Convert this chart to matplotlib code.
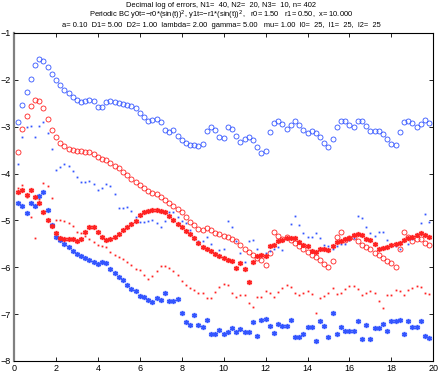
import numpy as np
import matplotlib
matplotlib.use("Agg")
import matplotlib.pyplot as plt

plt.rcParams['font.family'] = ['Liberation Sans', 'DejaVu Sans']

# abscissa: 0.2 .. 19.8
t = np.arange(1, 100) * 0.2

blue_circ = [
    -2.91, -2.54, -2.25, -1.99, -1.69, -1.55, -1.59, -1.73, -1.87, -2.00,
    -2.11, -2.22, -2.29, -2.36, -2.43, -2.48, -2.45, -2.42, -2.45, -2.57,
    -2.59, -2.47, -2.45, -2.47, -2.49, -2.51, -2.53, -2.56, -2.61, -2.70,
    -2.80, -2.88, -2.86, -2.84, -2.91, -3.06, -3.11, -3.08, -3.20, -3.28,
    -3.35, -3.40, -3.38, -3.42, -3.36, -3.10, -3.01, -3.07, -3.23, -3.25,
    -3.00, -3.05, -3.19, -3.32, -3.26, -3.21, -3.29, -3.44, -3.57, -3.51,
    -3.12, -2.92, -2.88, -2.95, -3.05, -2.96, -2.87, -2.96, -3.08, -3.14,
    -3.10, -3.14, -3.23, -3.34, -3.44, -3.26, -3.00, -2.87, -2.88, -2.97,
    -3.01, -2.88, -2.88, -2.98, -3.09, -3.09, -3.09, -3.15, -3.26, -3.36,
    -3.38, -3.11, -2.91, -2.87, -2.93, -3.01, -2.94, -2.85, -2.93]

red_circ = [
    -3.55, -3.05, -2.77, -2.55, -2.43, -2.45, -2.61, -2.83, -3.06, -3.23,
    -3.34, -3.41, -3.47, -3.50, -3.51, -3.52, -3.54, -3.55, -3.59, -3.64,
    -3.68, -3.72, -3.78, -3.84, -3.89, -3.96, -4.03, -4.11, -4.17, -4.24,
    -4.31, -4.37, -4.41, -4.44, -4.49, -4.56, -4.63, -4.69, -4.76, -4.83,
    -4.92, -5.03, -5.10, -5.18, -5.20, -5.17, -5.20, -5.27, -5.30, -5.33,
    -5.36, -5.40, -5.45, -5.52, -5.60, -5.67, -5.74, -5.81, -5.85, -5.95,
    -5.70, -5.24, -5.33, -5.40, -5.36, -5.41, -5.48, -5.55, -5.62, -5.68,
    -5.74, -5.78, -5.84, -5.92, -5.99, -5.87, -5.35, -5.24, -5.42, -5.38,
    -5.36, -5.45, -5.52, -5.57, -5.62, -5.69, -5.74, -5.81, -5.86, -5.91,
    -5.99, -5.60, -5.24, -5.35, -5.45, -5.40, -5.40, -5.48, -5.53]

red_star = [
    -4.39, -4.35, -4.46, -4.35, -4.51, -4.62, -4.82, -4.99, -5.12, -5.26,
    -5.38, -5.39, -5.39, -5.39, -5.43, -5.39, -5.24, -5.15, -5.15, -5.25,
    -5.35, -5.42, -5.40, -5.35, -5.28, -5.20, -5.13, -5.08, -5.01, -4.88,
    -4.83, -4.80, -4.78, -4.78, -4.80, -4.83, -4.90, -4.99, -5.08, -5.15,
    -5.23, -5.30, -5.38, -5.48, -5.56, -5.61, -5.65, -5.72, -5.76, -5.80,
    -5.84, -5.87, -6.02, -5.91, -6.03, -6.31, -5.88, -5.77, -5.74, -5.75,
    -5.55, -5.52, -5.45, -5.42, -5.38, -5.37, -5.38, -5.47, -5.52, -5.54,
    -5.65, -5.67, -5.60, -5.60, -5.63, -5.55, -5.47, -5.44, -5.40, -5.38,
    -5.31, -5.30, -5.31, -5.40, -5.42, -5.50, -5.60, -5.58, -5.56, -5.52,
    -5.51, -5.48, -5.42, -5.38, -5.35, -5.31, -5.27, -5.31, -5.35]

blue_star = [
    -4.63, -4.69, -4.85, -4.62, -4.69, -4.48, -4.40, -4.78, -5.10, -5.35,
    -5.42, -5.51, -5.57, -5.66, -5.72, -5.76, -5.81, -5.84, -5.88, -5.93,
    -5.88, -5.91, -6.04, -6.12, -6.21, -6.27, -6.38, -6.47, -6.50, -6.61,
    -6.63, -6.70, -6.75, -6.65, -6.70, -6.54, -6.72, -6.71, -6.68, -6.97,
    -7.16, -7.23, -7.02, -7.23, -7.27, -7.12, -7.42, -7.43, -7.34, -7.42,
    -7.39, -7.30, -7.39, -7.32, -7.39, -7.39, -7.17, -7.47, -7.12, -7.10,
    -7.25, -7.41, -7.21, -7.25, -7.25, -7.13, -7.49, -7.49, -7.42, -7.27,
    -7.28, -7.57, -7.14, -7.25, -7.48, -6.97, -7.42, -7.27, -7.37, -7.37,
    -7.37, -7.14, -7.54, -7.23, -7.53, -7.30, -7.30, -7.21, -7.37, -7.14,
    -7.14, -7.12, -7.42, -7.15, -7.27, -7.28, -7.15, -7.46, -7.52]

blue_dot = [
    -3.80, -3.21, -3.01, -2.98, -3.23, -2.98, -2.89, -3.13, -3.48, -3.93,
    -3.87, -3.80, -3.83, -3.95, -4.07, -4.19, -4.19, -4.16, -4.23, -4.35,
    -4.30, -4.23, -4.26, -4.44, -4.74, -4.74, -4.71, -4.80, -4.93, -5.03,
    -5.03, -5.01, -4.99, -5.05, -5.15, -5.01, -4.83, -4.83, -4.92, -5.01,
    -5.05, -5.20, -5.36, -5.45, -5.45, -5.35, -5.50, -5.70, -5.63, -5.61,
    -5.01, -5.13, -5.45, -5.70, -5.88, -5.43, -5.42, -5.62, -5.75, -5.70,
    -5.65, -5.60, -5.56, -5.63, -5.40, -5.08, -4.90, -5.10, -5.26, -5.36,
    -5.35, -5.26, -5.37, -5.52, -5.55, -5.62, -5.55, -5.50, -5.50, -5.42,
    -5.38, -4.91, -4.95, -5.13, -5.27, -5.33, -5.25, -5.25, -5.41, -5.52,
    -5.55, -5.60, -5.45, -5.50, -5.40, -5.30, -5.05, -4.87, -5.03]

red_dot = [
    -4.30, -4.24, -4.50, -4.93, -5.38, -4.55, -4.21, -4.26, -4.53, -4.99,
    -5.00, -5.02, -5.06, -5.11, -5.24, -5.26, -5.33, -5.40, -5.47, -5.52,
    -5.55, -5.56, -5.68, -5.74, -5.78, -5.83, -5.88, -5.96, -6.03, -6.06,
    -6.16, -6.25, -6.19, -6.09, -5.97, -5.97, -6.02, -6.07, -6.16, -6.29,
    -6.38, -6.45, -6.48, -6.55, -6.54, -6.66, -6.65, -6.52, -6.43, -6.36,
    -6.38, -6.54, -6.63, -6.59, -6.59, -6.77, -6.84, -6.63, -6.63, -6.50,
    -6.55, -6.63, -6.52, -6.45, -6.38, -6.43, -6.55, -6.60, -6.54, -6.51,
    -6.58, -6.98, -6.66, -6.61, -6.54, -6.45, -6.58, -6.54, -6.47, -6.41,
    -6.40, -6.47, -6.59, -6.55, -6.50, -6.54, -6.71, -6.87, -6.60, -6.60,
    -6.48, -6.50, -6.60, -6.48, -6.45, -6.39, -6.43, -6.54, -6.58]

BLUE = '#3355ff'
RED = '#ff2222'

fig = plt.figure(figsize=(4.43, 3.74), dpi=100)
ax = fig.add_axes([0.0316, 0.0348, 0.9465, 0.877])

ax.plot(t, blue_circ, 'o', mfc='none', mec=BLUE, ms=3.6, mew=0.6)
ax.plot(t, red_circ, 'o', mfc='none', mec=RED, ms=3.6, mew=0.6)
ax.plot(t, blue_dot, 's', color=BLUE, ms=1.3, mew=0)
ax.plot(t, red_dot, 's', color=RED, ms=1.3, mew=0)
# asterisks with a soft halo
for ys, c in ((blue_star, BLUE), (red_star, RED)):
    ax.plot(t, ys, 'o', color=c, alpha=0.3, ms=4.2, mew=0)
    ax.plot(t, ys, marker=(6, 2, 0), ls='none', color=c, ms=3.6, mew=1.0)

ax.set_xlim(0, 20)
ax.set_ylim(-8, -1)
ax.set_xticks(range(0, 21, 2))
ax.set_yticks(range(-8, 0))
ax.tick_params(direction='in', length=3, width=0.6, labelsize=6.5, pad=2,
               top=True, right=True)
for s in ax.spines.values():
    s.set_linewidth(0.8)
ax.spines['left'].set_color('#808080')
ax.spines['left'].set_linewidth(1.6)

fig.text(0.5, 0.984, 'Decimal log of errors, N1=  40, N2=  20, N3=  10, n= 402',
         ha='center', va='center', fontsize=5.4)
fig.text(0.5, 0.958, 'Periodic BC y0t=\u2212r0*(sin(t))$^2$, y1t=\u2212r1*(sin(t))$^2$,   '
         'r0= 1.50   r1= 0.50,  x= 10.000', ha='center', va='center', fontsize=5.4)
fig.text(0.5, 0.932, 'a= 0.10  D1= 5.00  D2= 1.00  lambda= 2.00  gamma= 5.00   '
         'mu= 1.00  l0=  25,  l1=  25,  l2=  25', ha='center', va='center', fontsize=5.4)

fig.savefig('out.png', dpi=100)
